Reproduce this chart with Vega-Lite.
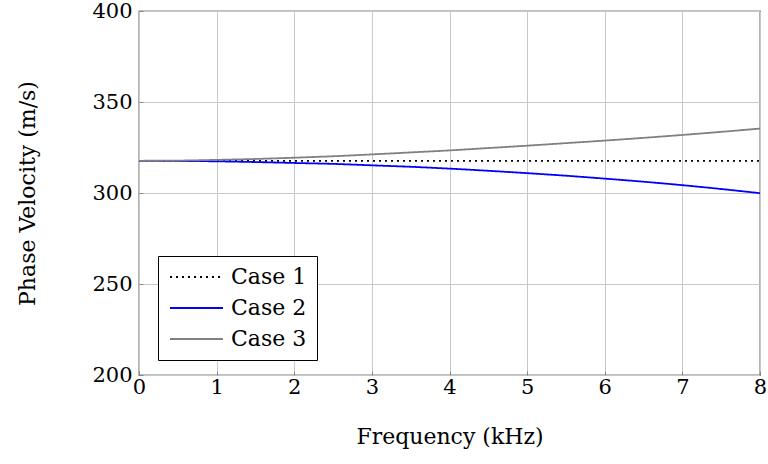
{
  "$schema": "https://vega.github.io/schema/vega-lite/v6.json",
  "width": 621,
  "height": 364,
  "autosize": "none",
  "padding": {"left": 139, "top": 11, "right": 8, "bottom": 89},
  "background": "white",
  "config": {
    "font": "DejaVu Serif",
    "view": {"stroke": "black", "strokeWidth": 1.2},
    "axis": {
      "gridColor": "#c8c8c8",
      "gridWidth": 1,
      "domain": false,
      "tickColor": "#888888",
      "tickSize": -4,
      "labelFont": "DejaVu Serif",
      "labelFontSize": 21,
      "labelColor": "black",
      "titleFont": "DejaVu Serif",
      "titleFontSize": 22,
      "titleFontWeight": "normal",
      "titleColor": "black"
    },
    "legend": {
      "labelFont": "DejaVu Serif",
      "labelFontSize": 22,
      "labelColor": "black"
    }
  },
  "data": {
    "values": [
      {"f": 0, "v": 317.7, "case": "Case 1"},
      {"f": 1, "v": 317.7, "case": "Case 1"},
      {"f": 2, "v": 317.7, "case": "Case 1"},
      {"f": 3, "v": 317.7, "case": "Case 1"},
      {"f": 4, "v": 317.7, "case": "Case 1"},
      {"f": 5, "v": 317.7, "case": "Case 1"},
      {"f": 6, "v": 317.7, "case": "Case 1"},
      {"f": 7, "v": 317.7, "case": "Case 1"},
      {"f": 8, "v": 317.7, "case": "Case 1"},
      {"f": 0, "v": 317.7, "case": "Case 2"},
      {"f": 0.5, "v": 317.6, "case": "Case 2"},
      {"f": 1, "v": 317.4, "case": "Case 2"},
      {"f": 1.5, "v": 317.0, "case": "Case 2"},
      {"f": 2, "v": 316.5, "case": "Case 2"},
      {"f": 2.5, "v": 316.0, "case": "Case 2"},
      {"f": 3, "v": 315.2, "case": "Case 2"},
      {"f": 3.5, "v": 314.4, "case": "Case 2"},
      {"f": 4, "v": 313.4, "case": "Case 2"},
      {"f": 4.5, "v": 312.2, "case": "Case 2"},
      {"f": 5, "v": 310.9, "case": "Case 2"},
      {"f": 5.5, "v": 309.5, "case": "Case 2"},
      {"f": 6, "v": 307.9, "case": "Case 2"},
      {"f": 6.5, "v": 306.2, "case": "Case 2"},
      {"f": 7, "v": 304.3, "case": "Case 2"},
      {"f": 7.5, "v": 302.2, "case": "Case 2"},
      {"f": 8, "v": 299.9, "case": "Case 2"},
      {"f": 0, "v": 317.7, "case": "Case 3"},
      {"f": 0.5, "v": 317.8, "case": "Case 3"},
      {"f": 1, "v": 318.2, "case": "Case 3"},
      {"f": 1.5, "v": 318.7, "case": "Case 3"},
      {"f": 2, "v": 319.4, "case": "Case 3"},
      {"f": 2.5, "v": 320.2, "case": "Case 3"},
      {"f": 3, "v": 321.2, "case": "Case 3"},
      {"f": 3.5, "v": 322.3, "case": "Case 3"},
      {"f": 4, "v": 323.4, "case": "Case 3"},
      {"f": 4.5, "v": 324.7, "case": "Case 3"},
      {"f": 5, "v": 326.0, "case": "Case 3"},
      {"f": 5.5, "v": 327.4, "case": "Case 3"},
      {"f": 6, "v": 328.8, "case": "Case 3"},
      {"f": 6.5, "v": 330.3, "case": "Case 3"},
      {"f": 7, "v": 331.9, "case": "Case 3"},
      {"f": 7.5, "v": 333.6, "case": "Case 3"},
      {"f": 8, "v": 335.4, "case": "Case 3"}
    ]
  },
  "mark": {"type": "line", "strokeWidth": 1.8, "interpolate": "monotone", "clip": true},
  "encoding": {
    "x": {
      "field": "f",
      "type": "quantitative",
      "scale": {"domain": [0, 8], "nice": false, "zero": false},
      "axis": {"title": "Frequency (kHz)", "values": [0, 1, 2, 3, 4, 5, 6, 7, 8], "labelPadding": 5, "titlePadding": 29, "labelFlush": false}
    },
    "y": {
      "field": "v",
      "type": "quantitative",
      "scale": {"domain": [200, 400], "nice": false, "zero": false},
      "axis": {"title": "Phase Velocity (m/s)", "values": [200, 250, 300, 350, 400], "labelPadding": 11, "titlePadding": 52, "labelFlush": false}
    },
    "color": {
      "field": "case",
      "type": "nominal",
      "scale": {"domain": ["Case 1", "Case 2", "Case 3"], "range": ["black", "#0000ff", "#808080"]},
      "legend": {
        "title": null,
        "orient": "none",
        "legendX": 19,
        "legendY": 245,
        "symbolType": "M-0.9,0H4.4",
        "symbolSize": 400,
        "symbolStrokeWidth": 2,
        "strokeColor": "black",
        "fillColor": "white",
        "padding": 10,
        "rowPadding": 9,
        "labelOffset": 41,
        "labelExpr": "datum.label + '\u2002'"
      }
    },
    "strokeDash": {
      "field": "case",
      "type": "nominal",
      "scale": {"domain": ["Case 1", "Case 2", "Case 3"], "range": [[2, 4], [1, 0], [1, 0]]},
      "legend": null
    }
  }
}
